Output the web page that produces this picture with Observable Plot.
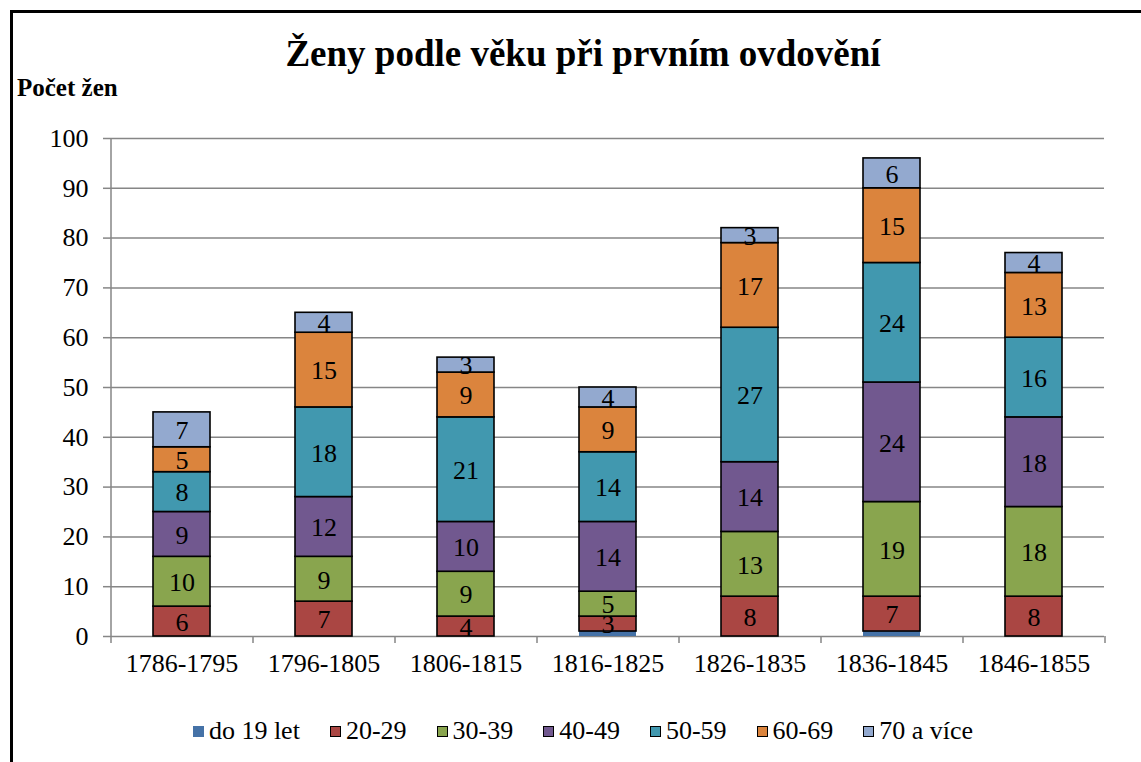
<!DOCTYPE html>
<html><head><meta charset="utf-8">
<script src="https://cdn.jsdelivr.net/npm/d3@7"></script>
<script src="https://cdn.jsdelivr.net/npm/@observablehq/plot@0.6"></script>
<style>
body{margin:0;background:#fff;font-family:"Liberation Serif","Times New Roman",serif;}
#wrap{position:relative;width:1141px;height:762px;overflow:hidden;background:#fff;}
#frame{position:absolute;left:10px;top:10px;width:1200px;height:800px;border:3px solid #000;box-sizing:border-box;z-index:5;}
#title{position:absolute;left:0;width:1166px;top:35px;text-align:center;font-weight:bold;font-size:37px;line-height:37px;}
#ylabel{position:absolute;left:17px;top:75px;font-weight:bold;font-size:25px;line-height:25px;}
#chart{position:absolute;left:0;top:110px;}
#legend{position:absolute;left:0;width:1166px;top:718px;display:flex;justify-content:center;font-size:26px;line-height:26px;}
.item{display:flex;align-items:center;margin:0 15px;}
.sw{width:11px;height:11px;box-sizing:border-box;border:1.5px solid #000;margin-right:5px;}
</style></head>
<body><div id="wrap">
<div id="frame"></div>
<div id="title">Ženy podle věku při prvním ovdovění</div>
<div id="ylabel">Počet žen</div>
<div id="chart"></div>
<div id="legend"></div>
</div>
<script>
const periods = ["1786-1795","1796-1805","1806-1815","1816-1825","1826-1835","1836-1845","1846-1855"];
const groups = ["do 19 let","20-29","30-39","40-49","50-59","60-69","70 a více"];
const colors = ["#4572A7","#AA4643","#89A54E","#71588F","#4198AF","#DB843D","#93A9CF"];
const do19 = [0,0,0,1,0,1,0];
const a20_29 = [6,7,4,3,8,7,8];
const a30_39 = [10,9,9,5,13,19,18];
const a40_49 = [9,12,10,14,14,24,18];
const a50_59 = [8,18,21,14,27,24,16];
const a60_69 = [5,15,9,9,17,15,13];
const a70 = [7,4,3,4,3,6,4];
const yTicks = [0,10,20,30,40,50,60,70,80,90,100];

const series = [do19,a20_29,a30_39,a40_49,a50_59,a60_69,a70];
const rows = [];
periods.forEach((p,i)=>{
  groups.forEach((g,j)=>{
    rows.push({period:p, group:g, value:series[j][i], edge: j===0?0:1});
  });
});

const W = 1141, H = 580;
const mL = 110, mR = 37, mT = 28, mB = 54;
const step = (W - mL - mR) / periods.length;
const grid = "#868686";
const font = "'Liberation Serif', 'Times New Roman', serif";

const chart = Plot.plot({
  width: W, height: H,
  marginLeft: mL, marginRight: mR, marginTop: mT, marginBottom: mB,
  style: {fontFamily: font, background: "none", color: "#000"},
  x: {domain: periods, paddingInner: 0.6, paddingOuter: 0.3, label: null},
  y: {domain: [0,100], label: null},
  color: {domain: groups, range: colors},
  opacity: {domain: [0,1], range: [0,1]},
  marks: [
    Plot.ruleY(yTicks.filter(t=>t>0), {y: d=>d, stroke: grid, strokeWidth: 1.5}),
    Plot.axisY({ticks: yTicks, tickSize: 7, tickPadding: 15, fontSize: 26, stroke: grid, fill: "#000", strokeWidth: 1.5, label: null}),
    Plot.axisX({tickSize: 0, tickPadding: 17, fontSize: 26, fill: "#000", label: null}),
    Plot.ruleX(periods, {x: d=>d, y1: 0, y2: 100, dx: -step/2, stroke: grid, strokeWidth: 1.5, filter: (d,i)=>i===0}),
    Plot.ruleY([0], {stroke: grid, strokeWidth: 1.5}),
    Plot.ruleX(periods, {x: d=>d, y1: 0, y2: -1.4, dx: -step/2, stroke: grid, strokeWidth: 1.5}),
    Plot.ruleX([periods[periods.length-1]], {x: d=>d, y1: 0, y2: -1.4, dx: step/2, stroke: grid, strokeWidth: 1.5}),
    Plot.barY(rows, Plot.stackY({x: "period", y: "value", z: "group", fill: "group", stroke: "#000", strokeWidth: 1.6, strokeOpacity: "edge"})),
    Plot.text(rows, Plot.stackY({x: "period", y: "value", z: "group", text: d => d.value > 1 ? String(d.value) : "", fontSize: 26, fill: "#000", dy: 1}))
  ]
});
document.getElementById("chart").appendChild(chart);

const legend = document.getElementById("legend");
groups.forEach((g,j)=>{
  const it = document.createElement("div"); it.className = "item";
  const sw = document.createElement("div"); sw.className = "sw";
  sw.style.background = colors[j];
  if (j===0) sw.style.border = "none";
  const t = document.createElement("span"); t.textContent = g;
  it.appendChild(sw); it.appendChild(t); legend.appendChild(it);
});
</script>
</body></html>
